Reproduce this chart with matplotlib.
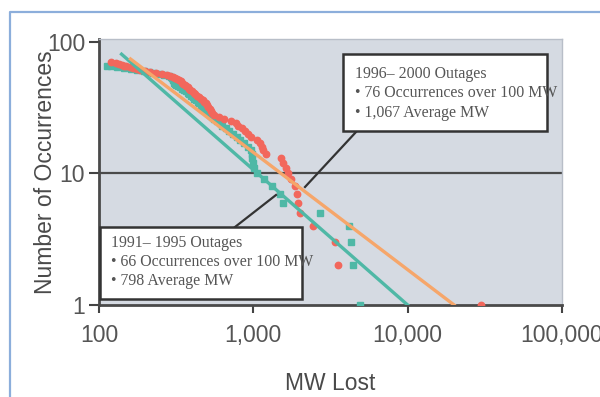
import matplotlib
matplotlib.use("Agg")
import matplotlib.pyplot as plt
from matplotlib.lines import Line2D
from matplotlib.patches import Rectangle

# 1991-1995 outages: MW lost and cumulative number of occurrences
mw_9195 = [112, 120, 130, 145, 160, 175, 195, 210, 225, 245, 265, 285, 292, 296,
           300, 303, 306, 308, 310, 315, 325, 335, 345, 355, 365, 375, 385, 395,
           405, 415, 425, 435, 445, 455, 465, 475, 490, 505, 520, 540, 560, 580,
           605, 630, 665, 700, 740, 780, 820, 870, 920, 960, 975, 985, 995, 1005,
           1050, 1180, 1320, 1480, 1560, 2700, 4150, 4300, 4450, 4900]
n_9195 = [66, 65, 64, 63, 62, 61, 60, 59, 58, 57, 56, 55, 54, 53, 52, 51, 50, 49,
          48, 47, 46, 45, 44, 43, 42, 41, 40, 39, 38, 37, 36, 35, 34, 33, 32, 31,
          30, 29, 28, 27, 26, 25, 24, 23, 22, 21, 20, 19, 18, 17, 16, 15, 14, 13,
          12, 11, 10, 9, 8, 7, 6, 5, 4, 3, 2, 1]

# 1996-2000 outages
mw_9600 = [120, 128, 135, 140, 145, 150, 158, 165, 175, 185, 200, 215, 235, 255,
           275, 290, 300, 310, 320, 330, 338, 345, 352, 360, 368, 375, 382, 390,
           400, 410, 420, 430, 445, 460, 470, 480, 490, 500, 510, 520, 530, 540,
           560, 600, 650, 720, 770, 800, 840, 880, 920, 960, 1050, 1100, 1130,
           1160, 1200, 1500, 1560, 1620, 1680, 1750, 1850, 1920, 1950, 2000, 2430,
           3370, 3520, 30000]
n_9600 = [70, 69, 68, 67, 66, 65, 64, 63, 62, 61, 60, 59, 58, 57, 56, 55, 54, 53,
          52, 51, 50, 49, 48, 47, 46, 45, 44, 43, 42, 41, 40, 39, 38, 37, 36, 35,
          34, 33, 32, 31, 30, 29, 28, 27, 26, 25, 24, 23, 22, 21, 20, 19, 18, 17,
          16, 15, 14, 13, 12, 11, 10, 9, 8, 7, 6, 5, 4, 3, 2, 1]

# Power-law trend lines (end points)
fit_9195_x = [140, 10000]
fit_9195_y = [80.5, 1]
fit_9600_x = [160, 20000]
fit_9600_y = [74, 1]

x_ticks = [100, 1000, 10000, 100000]
x_tick_labels = ["100", "1,000", "10,000", "100,000"]
y_ticks = [1, 10, 100]
y_tick_labels = ["1", "10", "100"]

box_9600 = ["1996\u2013 2000 Outages", "\u2022 76 Occurrences over 100 MW",
            "\u2022 1,067 Average MW"]
box_9195 = ["1991\u2013 1995 Outages", "\u2022 66 Occurrences over 100 MW",
            "\u2022 798 Average MW"]

TEAL = "#4fb8a6"
RED = "#f2675c"
ORANGE = "#f6a66a"
GRAY_TXT = "#555555"
AX_TXT = "#4a4a4a"
FS = 16.5

W, H = 600, 397
fig = plt.figure(figsize=(W / 100, H / 100), dpi=100)
fig.patch.set_facecolor("white")


def fx(px):
    return px / W


def fy(py):
    return 1 - py / H


ax_l, ax_r, ax_t, ax_b = 99, 562, 39, 305
ax = fig.add_axes([fx(ax_l), fy(ax_b), fx(ax_r) - fx(ax_l), fy(ax_t) - fy(ax_b)])
ax.set_facecolor("#d5dae2")
ax.set_xscale("log")
ax.set_yscale("log")
ax.set_xlim(100, 100000)
ax.set_ylim(1, 105)

ax.axhline(10, color="#4a4a4a", lw=1.6, zorder=1)

ax.plot(mw_9195, n_9195, "s", color=TEAL, ms=4.2, mec=TEAL, zorder=3)
ax.plot(mw_9600, n_9600, "o", color=RED, ms=4.6, mec=RED, zorder=3)
ax.plot(fit_9195_x, fit_9195_y, color=TEAL, lw=2.4, zorder=4)
ax.plot(fit_9600_x, fit_9600_y, color=ORANGE, lw=2.4, zorder=4)

ax.minorticks_off()
ax.set_xticks(x_ticks)
ax.set_xticklabels(x_tick_labels)
ax.set_yticks(y_ticks)
ax.set_yticklabels(y_tick_labels)
ax.tick_params(axis="x", direction="out", length=6, width=1.5, colors="#444444",
               labelcolor=GRAY_TXT, labelsize=FS, pad=8)
ax.tick_params(axis="y", direction="out", length=7, width=1.5, colors="#444444",
               labelcolor=GRAY_TXT, labelsize=FS, pad=3)
for lab in ax.get_xticklabels() + ax.get_yticklabels():
    lab.set_fontfamily("Liberation Sans")

for side in ("left", "bottom"):
    ax.spines[side].set_color("#4a4a4a")
    ax.spines[side].set_linewidth(2)
for side in ("right", "top"):
    ax.spines[side].set_color("#b8bec8")
    ax.spines[side].set_linewidth(1)

ax.set_xlabel("MW Lost", fontsize=FS, color=AX_TXT, family="Liberation Sans",
              va="center")
ax.xaxis.set_label_coords(0.5, (fy(383) - fy(ax_b)) / (fy(ax_t) - fy(ax_b)))
ax.set_ylabel("Number of Occurrences", fontsize=FS, color=AX_TXT,
              family="Liberation Sans", va="center")
ax.yaxis.set_label_coords((fx(46) - fx(ax_l)) / (fx(ax_r) - fx(ax_l)), 0.5)

# Callout connectors
fig.add_artist(Line2D([fx(356), fx(305)], [fy(132), fy(187)], color="#333333",
                      lw=1.6, transform=fig.transFigure, zorder=5))
fig.add_artist(Line2D([fx(235), fx(276)], [fy(227), fy(195)], color="#333333",
                      lw=1.6, transform=fig.transFigure, zorder=5))


def text_box(x0, y0, x1, y1, lines, tx, ty_list):
    fig.add_artist(Rectangle((fx(x0), fy(y1)), fx(x1) - fx(x0), fy(y0) - fy(y1),
                             transform=fig.transFigure, facecolor="white",
                             edgecolor="#333333", lw=1.8, zorder=6))
    for s, ty in zip(lines, ty_list):
        fig.text(fx(tx), fy(ty), s, fontsize=11.4, color=GRAY_TXT,
                 family="Liberation Serif", va="center", ha="left", zorder=7)


text_box(343, 54, 547, 131, box_9600, 355, [74, 93, 113])
text_box(100, 227, 302, 299, box_9195, 111, [243, 262, 281])

# Page frame
fig.add_artist(Line2D([fx(10), fx(10), fx(600)], [fy(397), fy(12), fy(12)],
                      color="#8caedb", lw=1.6, transform=fig.transFigure))

fig.savefig("out.png", dpi=100)
